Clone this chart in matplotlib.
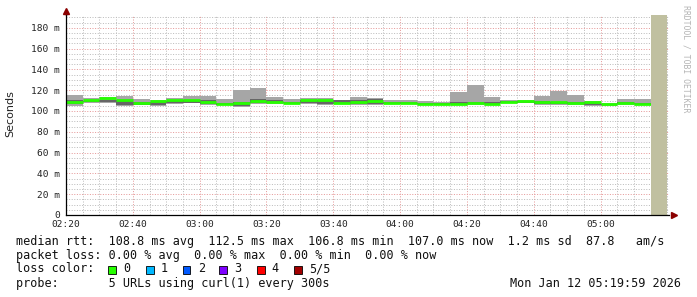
import numpy as np
import matplotlib
matplotlib.use("Agg")
from matplotlib import pyplot as plt
from matplotlib.patches import Rectangle

# 5 minute bins starting at 02:20 (minutes after 02:20)
bin_start = np.arange(0, 175, 5)
smoke_max = [115.4, 112.5, 113.8, 114.4, 111.8, 110.6, 112.5, 114.4, 114.4, 111.3,
             120.2, 122.1, 113.8, 111.8, 112.2, 112.2, 110.6, 113.5, 112.2, 110.3,
             110.3, 109.3, 108.7, 118.3, 125.0, 113.5, 110.6, 110.6, 114.7, 119.2,
             115.4, 109.6, 107.4, 111.5, 111.5]
smoke_min = [104.8, 108.0, 108.0, 104.8, 105.5, 104.8, 106.7, 107.4, 105.5, 105.5,
             104.1, 106.7, 106.5, 106.8, 107.0, 105.5, 106.5, 105.8, 105.8, 106.5,
             106.5, 105.8, 105.8, 105.8, 105.5, 105.5, 107.5, 107.5, 106.0, 105.8,
             105.8, 104.8, 104.8, 105.5, 105.8]
inner_lo = [107.2, 108.3, 108.2, 105.6, 106.0, 106.0, 108.0, 108.0, 106.4, 106.0,
            105.0, 107.5, 107.3, 107.5, 108.0, 106.5, 107.0, 106.6, 106.8, 107.0,
            107.0, 106.3, 106.3, 106.5, 106.5, 106.5, 107.8, 108.0, 107.0, 107.0,
            107.0, 105.8, 105.8, 106.3, 106.3]
inner_hi = [110.4, 109.6, 110.6, 110.5, 108.3, 108.8, 109.5, 111.0, 110.5, 108.0,
            109.0, 111.8, 110.5, 109.0, 110.8, 111.0, 110.6, 111.0, 111.5, 108.5,
            108.5, 107.8, 107.5, 108.2, 108.5, 108.3, 109.5, 109.8, 109.8, 109.0,
            108.8, 108.9, 107.2, 108.5, 107.8]
median = [108.7, 111.0, 112.5, 110.6, 107.4, 109.6, 110.6, 110.3, 109.0, 106.8,
          108.0, 109.9, 109.0, 108.0, 110.3, 110.3, 108.0, 108.5, 109.4, 107.9,
          107.9, 107.0, 106.8, 107.0, 107.4, 107.0, 108.7, 109.3, 109.0, 108.3,
          108.0, 108.5, 106.8, 107.5, 107.0]
unknown_span = (175, 180)

xtick_pos = [0, 20, 40, 60, 80, 100, 120, 140, 160]
xtick_labels = ['02:20', '02:40', '03:00', '03:20', '03:40', '04:00', '04:20', '04:40', '05:00']
ytick_pos = [0, 20, 40, 60, 80, 100, 120, 140, 160, 180]
ytick_labels = ['0', '20 m', '40 m', '60 m', '80 m', '100 m', '120 m', '140 m', '160 m', '180 m']

loss_labels = ['0', '1', '2', '3', '4', '5/5']
loss_colors = ['#26ff00', '#00b8ff', '#0059ff', '#7e00ff', '#ff0000', '#a10000']

mono = 'DejaVu Sans Mono'
W, H = 697, 297
fig = plt.figure(figsize=(W / 100, H / 100), dpi=100)
ax = fig.add_axes([66 / W, (H - 215) / H, 603 / W, 200 / H])

ax.set_xlim(0, 180.5)
ax.set_ylim(0, 192.3)

# grid
ax.set_xticks(xtick_pos)
ax.set_xticks(np.arange(0, 181, 5), minor=True)
ax.set_yticks(ytick_pos)
ax.set_yticks(np.arange(0, 191, 5), minor=True)
ax.set_xticklabels(xtick_labels, fontsize=6.8, family=mono, color='#222222')
ax.set_yticklabels(ytick_labels, fontsize=6.8, family=mono, color='#222222')
ax.tick_params(which='both', length=0)
ax.tick_params(axis='x', pad=3.6)
ax.tick_params(axis='y', pad=4.3)
ax.grid(which='minor', color='#bdbdbd', lw=0.72, ls=(0, (1, 1.6)))
ax.grid(which='major', color='#e69a9a', lw=0.72, ls=(0, (1, 1.6)))
ax.set_axisbelow(True)

# smoke
b = np.array(bin_start)
ax.bar(b, np.array(smoke_max) - np.array(smoke_min), width=5, bottom=smoke_min,
       align='edge', color='#a6a6a6', lw=0, zorder=2)
ax.bar(b, np.array(inner_hi) - np.array(inner_lo), width=5, bottom=inner_lo,
       align='edge', color='#666666', lw=0, zorder=3)
# median (loss 0 -> green)
ax.hlines(median, b, b + 5, colors='#26ff00', lw=2.0, zorder=4)

ax.axvspan(*unknown_span, color='#c0c0a0', lw=0, zorder=5)

for s in ['top', 'right']:
    ax.spines[s].set_visible(False)
for s in ['left', 'bottom']:
    ax.spines[s].set_color('black')
    ax.spines[s].set_linewidth(0.9)
    ax.spines[s].set_zorder(6)

# axis arrows
ax.plot([0], [196], marker='^', ms=4.5, color='#8b0000', clip_on=False, zorder=7)
ax.plot([182], [0], marker='>', ms=4.5, color='#8b0000', clip_on=False, zorder=7)
ax.plot([0, 0], [192.3, 196], color='black', lw=0.9, clip_on=False)

fig.text(10 / W, 1 - 114 / H, 'Seconds', rotation=90, fontsize=8, ha='center', va='center',
         color='#222222')
fig.text(686 / W, 1 - 5 / H, 'RRDTOOL / TOBI OETIKER', rotation=270, fontsize=5.9,
         family=mono, ha='center', va='top', color='#b4b4b4')

fs = 8.5
rows = [
    (241.5, 'median rtt:  108.8 ms avg  112.5 ms max  106.8 ms min  107.0 ms now  1.2 ms sd  87.8   am/s'),
    (255, 'packet loss: 0.00 % avg  0.00 % max  0.00 % min  0.00 % now'),
    (269, 'loss color:'),
    (283.3, 'probe:       5 URLs using curl(1) every 300s'),
]
for y, t in rows:
    fig.text(16 / W, 1 - y / H, t, fontsize=fs, family=mono, ha='left', va='center',
             color='#111111')

box_x = [108.3, 145.7, 182.7, 219.3, 256.7, 294]
for bx, lab, col in zip(box_x, loss_labels, loss_colors):
    fig.add_artist(Rectangle((bx / W, 1 - 273.5 / H), 7.8 / W, 7.8 / H, facecolor=col,
                             edgecolor='black', lw=0.6, transform=fig.transFigure))
    fig.text((bx + 15) / W, 1 - 269 / H, lab, fontsize=fs, family=mono, ha='left',
             va='center', color='#111111')

fig.text(681 / W, 1 - 283.3 / H, 'Mon Jan 12 05:19:59 2026', fontsize=fs, family=mono,
         ha='right', va='center', color='#111111')

fig.savefig('out.png', dpi=100)
